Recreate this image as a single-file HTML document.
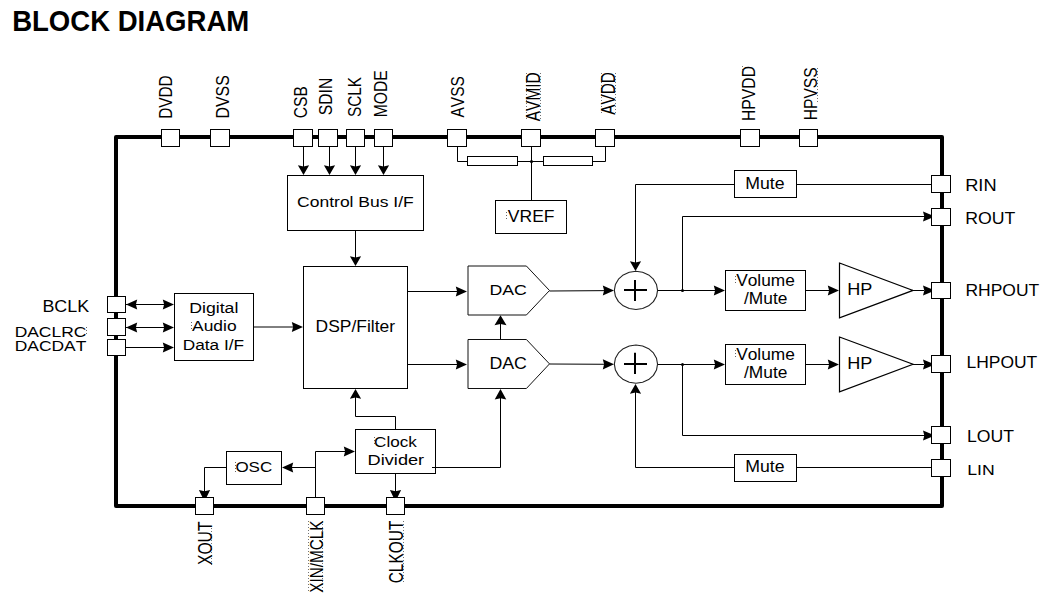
<!DOCTYPE html>
<html><head><meta charset="utf-8"><title>Block Diagram</title>
<style>
html,body{margin:0;padding:0;background:#fff;}
body{width:1051px;height:606px;overflow:hidden;}
svg{display:block;}
text{font-family:"Liberation Sans",sans-serif;font-kerning:none;}
</style></head>
<body>
<svg width="1051" height="606" viewBox="0 0 1051 606">
<rect width="1051" height="606" fill="#fff"/>
<text transform="translate(12.16,30.80) scale(0.9842,1.0434)" font-size="28" font-weight="bold" fill="#000">BLOCK DIAGRAM</text>
<rect x="116" y="137" width="826" height="369" fill="none" stroke="#000" stroke-width="4" stroke-linejoin="round"/>
<rect x="161.5" y="129.5" width="18" height="17" fill="#fff" stroke="#000" stroke-width="1"/>
<rect x="210.5" y="129.5" width="19" height="17" fill="#fff" stroke="#000" stroke-width="1"/>
<rect x="293.5" y="129.5" width="19" height="17" fill="#fff" stroke="#000" stroke-width="1"/>
<rect x="318.5" y="129.5" width="19" height="17" fill="#fff" stroke="#000" stroke-width="1"/>
<rect x="346.5" y="129.5" width="18" height="17" fill="#fff" stroke="#000" stroke-width="1"/>
<rect x="374.5" y="129.5" width="18" height="17" fill="#fff" stroke="#000" stroke-width="1"/>
<rect x="447.5" y="129.5" width="19" height="17" fill="#fff" stroke="#000" stroke-width="1"/>
<rect x="521.5" y="129.5" width="19" height="17" fill="#fff" stroke="#000" stroke-width="1"/>
<rect x="595.5" y="129.5" width="19" height="17" fill="#fff" stroke="#000" stroke-width="1"/>
<rect x="740.5" y="129.5" width="19" height="17" fill="#fff" stroke="#000" stroke-width="1"/>
<rect x="799.5" y="129.5" width="18" height="17" fill="#fff" stroke="#000" stroke-width="1"/>
<rect x="931.5" y="175.5" width="19" height="17" fill="#fff" stroke="#000" stroke-width="1"/>
<rect x="931.5" y="208.5" width="19" height="17" fill="#fff" stroke="#000" stroke-width="1"/>
<rect x="931.5" y="282.5" width="19" height="16" fill="#fff" stroke="#000" stroke-width="1"/>
<rect x="931.5" y="355.5" width="19" height="17" fill="#fff" stroke="#000" stroke-width="1"/>
<rect x="931.5" y="426.5" width="19" height="17" fill="#fff" stroke="#000" stroke-width="1"/>
<rect x="931.5" y="459.5" width="19" height="17" fill="#fff" stroke="#000" stroke-width="1"/>
<rect x="107.5" y="296.5" width="18" height="16" fill="#fff" stroke="#000" stroke-width="1"/>
<rect x="107.5" y="318.5" width="18" height="17" fill="#fff" stroke="#000" stroke-width="1"/>
<rect x="107.5" y="339.5" width="18" height="16" fill="#fff" stroke="#000" stroke-width="1"/>
<rect x="195.5" y="497.5" width="18" height="17" fill="#fff" stroke="#000" stroke-width="1"/>
<rect x="306.5" y="497.5" width="18" height="17" fill="#fff" stroke="#000" stroke-width="1"/>
<rect x="386.5" y="497.5" width="18" height="17" fill="#fff" stroke="#000" stroke-width="1"/>
<text transform="translate(171.70,118.86) rotate(-90) scale(0.7693,0.9157)" font-size="20" fill="#000" class="t">DVDD</text>
<text transform="translate(229.00,118.50) rotate(-90) scale(0.7938,0.9237)" font-size="20" fill="#000" class="t">DVSS</text>
<text transform="translate(306.50,118.19) rotate(-90) scale(0.7784,0.9309)" font-size="20" fill="#000" class="t">CSB</text>
<text transform="translate(332.00,115.21) rotate(-90) scale(0.7846,0.8951)" font-size="20" fill="#000" class="t">SDIN</text>
<text transform="translate(360.90,117.10) rotate(-90) scale(0.7708,0.9237)" font-size="20" fill="#000" class="t">SCLK</text>
<text transform="translate(387.40,117.28) rotate(-90) scale(0.7826,0.9524)" font-size="20" fill="#000" class="t">MODE</text>
<text transform="translate(464.40,117.53) rotate(-90) scale(0.7748,0.9524)" font-size="20" fill="#000" class="t">AVSS</text>
<text transform="translate(540.00,121.23) rotate(-90) scale(0.7731,0.9811)" font-size="20" fill="#000" class="t">AVMID</text>
<text transform="translate(615.30,114.73) rotate(-90) scale(0.7660,1.0102)" font-size="20" fill="#000" class="t">AVDD</text>
<text transform="translate(755.00,120.99) rotate(-90) scale(0.7862,0.9230)" font-size="20" fill="#000" class="t">HPVDD</text>
<text transform="translate(817.30,120.28) rotate(-90) scale(0.7817,0.9452)" font-size="20" fill="#000" class="t">HPVSS</text>
<text transform="translate(211.80,565.05) rotate(-90) scale(0.7850,0.9882)" font-size="20" fill="#000" class="t">XOUT</text>
<text transform="translate(322.50,592.84) rotate(-90) scale(0.7666,0.9246)" font-size="20" fill="#000" class="t">XIN/MCLK</text>
<text transform="translate(403.00,583.28) rotate(-90) scale(0.7721,0.9810)" font-size="20" fill="#000" class="t">CLKOUT</text>
<text transform="translate(965.21,190.80) scale(0.9111,0.8503)" font-size="20" fill="#000" class="t">RIN</text>
<text transform="translate(965.25,224.10) scale(0.8853,0.8235)" font-size="20" fill="#000" class="t">ROUT</text>
<text transform="translate(965.47,295.80) scale(0.8744,0.8020)" font-size="20" fill="#000" class="t">RHPOUT</text>
<text transform="translate(966.47,367.70) scale(0.8732,0.8163)" font-size="20" fill="#000" class="t">LHPOUT</text>
<text transform="translate(966.95,441.50) scale(0.8821,0.8092)" font-size="20" fill="#000" class="t">LOUT</text>
<text transform="translate(967.15,474.80) scale(0.8833,0.7631)" font-size="20" fill="#000" class="t">LIN</text>
<text transform="translate(42.43,311.70) scale(0.8952,0.8307)" font-size="20" fill="#000" class="t">BCLK</text>
<text transform="translate(14.67,336.60) scale(0.8718,0.7447)" font-size="20" fill="#000" class="t">DACLRC</text>
<text transform="translate(14.67,351.40) scale(0.8724,0.7447)" font-size="20" fill="#000" class="t">DACDAT</text>
<rect x="287.5" y="175.5" width="136" height="55" fill="#fff" stroke="#000" stroke-width="1"/>
<text transform="translate(297.11,207.00) scale(0.8749,0.7659)" font-size="20" fill="#000" class="t">Control Bus I/F</text>
<rect x="495.5" y="200.5" width="71" height="33" fill="#fff" stroke="#000" stroke-width="1"/>
<text transform="translate(507.82,221.60) scale(0.8770,0.8576)" font-size="20" fill="#000" class="t">VREF</text>
<rect x="174.5" y="293.5" width="79" height="67" fill="#fff" stroke="#000" stroke-width="1"/>
<text transform="translate(189.25,312.80) scale(0.8841,0.7383)" font-size="20" fill="#000" class="t">Digital</text>
<text transform="translate(192.07,331.10) scale(0.8712,0.7452)" font-size="20" fill="#000" class="t">Audio</text>
<text transform="translate(182.79,350.00) scale(0.8618,0.7521)" font-size="20" fill="#000" class="t">Data I/F</text>
<rect x="303.5" y="266.5" width="104" height="122" fill="#fff" stroke="#000" stroke-width="1"/>
<text transform="translate(315.57,331.60) scale(0.8727,0.7935)" font-size="20" fill="#000" class="t">DSP/Filter</text>
<path d="M468,266 L526.4,266 L549.5,290.5 L526.4,315 L468,315 Z" fill="#fff" stroke="#111" stroke-width="1"/>
<path d="M468,339.5 L526.4,339.5 L549.5,363.9 L526.4,388.5 L468,388.5 Z" fill="#fff" stroke="#111" stroke-width="1"/>
<text transform="translate(489.45,294.90) scale(0.8839,0.7590)" font-size="20" fill="#000" class="t">DAC</text>
<text transform="translate(489.44,368.80) scale(0.8889,0.8020)" font-size="20" fill="#000" class="t">DAC</text>
<polygon points="657.55,290.40 656.49,296.30 653.42,301.63 648.65,305.85 642.62,308.57 635.95,309.50 629.28,308.57 623.25,305.85 618.48,301.63 615.41,296.30 614.35,290.40 615.41,284.50 618.48,279.17 623.25,274.95 629.28,272.23 635.95,271.30 642.62,272.23 648.65,274.95 653.42,279.17 656.49,284.50" fill="#fff" stroke="#222" stroke-width="1.1" stroke-linejoin="round"/>
<line x1="624" y1="290.0" x2="647" y2="290.0" stroke="#000" stroke-width="2"/>
<line x1="635" y1="280.0" x2="635" y2="301.0" stroke="#000" stroke-width="2"/>
<polygon points="657.55,364.15 656.49,370.05 653.42,375.38 648.65,379.60 642.62,382.32 635.95,383.25 629.28,382.32 623.25,379.60 618.48,375.38 615.41,370.05 614.35,364.15 615.41,358.25 618.48,352.92 623.25,348.70 629.28,345.98 635.95,345.05 642.62,345.98 648.65,348.70 653.42,352.92 656.49,358.25" fill="#fff" stroke="#222" stroke-width="1.1" stroke-linejoin="round"/>
<line x1="624" y1="364.0" x2="647" y2="364.0" stroke="#000" stroke-width="2"/>
<line x1="635" y1="352.8" x2="635" y2="374.0" stroke="#000" stroke-width="2"/>
<rect x="725.5" y="270.5" width="80" height="40" fill="#fff" stroke="#000" stroke-width="1"/>
<rect x="725.5" y="344.5" width="80" height="40" fill="#fff" stroke="#000" stroke-width="1"/>
<text transform="translate(736.22,285.90) scale(0.8648,0.8142)" font-size="20" fill="#000" class="t">Volume</text>
<text transform="translate(744.00,304.30) scale(0.8671,0.7797)" font-size="20" fill="#000" class="t">/Mute</text>
<text transform="translate(736.22,359.80) scale(0.8648,0.8073)" font-size="20" fill="#000" class="t">Volume</text>
<text transform="translate(744.00,377.80) scale(0.8671,0.7866)" font-size="20" fill="#000" class="t">/Mute</text>
<path d="M839.5,263 L913,290.4 L839.5,317.9 Z" fill="#fff" stroke="#000" stroke-width="1.2"/>
<path d="M839.5,337 L913,364.3 L839.5,391.9 Z" fill="#fff" stroke="#000" stroke-width="1.2"/>
<text transform="translate(847.22,295.00) scale(0.9048,0.7849)" font-size="20" fill="#000" class="t">HP</text>
<text transform="translate(847.22,369.00) scale(0.9048,0.7849)" font-size="20" fill="#000" class="t">HP</text>
<rect x="734.5" y="170.5" width="62" height="27" fill="#fff" stroke="#000" stroke-width="1"/>
<text transform="translate(745.25,188.80) scale(0.8847,0.8430)" font-size="20" fill="#000" class="t">Mute</text>
<rect x="734.5" y="454.5" width="62" height="27" fill="#fff" stroke="#000" stroke-width="1"/>
<text transform="translate(745.25,472.40) scale(0.8847,0.8212)" font-size="20" fill="#000" class="t">Mute</text>
<rect x="226.5" y="451.5" width="55" height="33" fill="#fff" stroke="#000" stroke-width="1"/>
<text transform="translate(235.39,471.90) scale(0.8503,0.7734)" font-size="20" fill="#000" class="t">OSC</text>
<rect x="355.5" y="429.5" width="80" height="44" fill="#fff" stroke="#000" stroke-width="1"/>
<text transform="translate(374.03,446.80) scale(0.8567,0.7728)" font-size="20" fill="#000" class="t">Clock</text>
<text transform="translate(367.61,465.20) scale(0.9093,0.7383)" font-size="20" fill="#000" class="t">Divider</text>
<rect x="467.5" y="156.5" width="50" height="9" fill="#fff" stroke="#000" stroke-width="1"/>
<rect x="543.5" y="156.5" width="49" height="9" fill="#fff" stroke="#000" stroke-width="1"/>
<line x1="526.5" y1="73" x2="526.5" y2="121" stroke="#000" stroke-width="1" stroke-dasharray="1 2" opacity="0.55"/>
<line x1="540.5" y1="73" x2="540.5" y2="121" stroke="#000" stroke-width="1" stroke-dasharray="1 2" opacity="0.55"/>
<line x1="601.5" y1="73" x2="601.5" y2="115" stroke="#000" stroke-width="1" stroke-dasharray="1 2" opacity="0.55"/>
<line x1="615.5" y1="73" x2="615.5" y2="115" stroke="#000" stroke-width="1" stroke-dasharray="1 2" opacity="0.55"/>
<line x1="308.5" y1="521" x2="308.5" y2="592" stroke="#000" stroke-width="1" stroke-dasharray="1 2" opacity="0.55"/>
<line x1="322.5" y1="521" x2="322.5" y2="592" stroke="#000" stroke-width="1" stroke-dasharray="1 2" opacity="0.55"/>
<line x1="403.5" y1="521" x2="403.5" y2="583" stroke="#000" stroke-width="1" stroke-dasharray="1 2" opacity="0.55"/>
<line x1="211.5" y1="528" x2="211.5" y2="565" stroke="#000" stroke-width="1" stroke-dasharray="1 2" opacity="0.55"/>
<line x1="817.5" y1="68" x2="817.5" y2="104" stroke="#000" stroke-width="1" stroke-dasharray="1 2" opacity="0.55"/>
<line x1="742.5" y1="66" x2="742.5" y2="72" stroke="#000" stroke-width="1" stroke-dasharray="1 2" opacity="0.55"/>
<line x1="735.5" y1="276" x2="735.5" y2="284" stroke="#000" stroke-width="1" stroke-dasharray="1 2" opacity="0.6"/>
<line x1="735.5" y1="350" x2="735.5" y2="358" stroke="#000" stroke-width="1" stroke-dasharray="1 2" opacity="0.6"/>
<line x1="191.5" y1="322" x2="191.5" y2="330" stroke="#000" stroke-width="1" stroke-dasharray="1 2" opacity="0.6"/>
<line x1="235.5" y1="462" x2="235.5" y2="472" stroke="#000" stroke-width="1" stroke-dasharray="1 2" opacity="0.6"/>
<line x1="374.5" y1="437" x2="374.5" y2="446" stroke="#000" stroke-width="1" stroke-dasharray="1 2" opacity="0.6"/>
<line x1="506.5" y1="212" x2="506.5" y2="220" stroke="#000" stroke-width="1" stroke-dasharray="1 2" opacity="0.6"/>
<line x1="86.5" y1="327" x2="86.5" y2="336" stroke="#000" stroke-width="1" stroke-dasharray="1 2" opacity="0.6"/>
<line x1="303.5" y1="147" x2="303.5" y2="170" stroke="#000" stroke-width="1"/>
<path d="M0,0 L-9.8,-5.6 L-8.5,0 L-9.8,5.6 Z" fill="#000" transform="translate(303.5,175) rotate(90)"/>
<line x1="329.5" y1="147" x2="329.5" y2="170" stroke="#000" stroke-width="1"/>
<path d="M0,0 L-9.8,-5.6 L-8.5,0 L-9.8,5.6 Z" fill="#000" transform="translate(329.5,175) rotate(90)"/>
<line x1="355.5" y1="147" x2="355.5" y2="170" stroke="#000" stroke-width="1"/>
<path d="M0,0 L-9.8,-5.6 L-8.5,0 L-9.8,5.6 Z" fill="#000" transform="translate(355.5,175) rotate(90)"/>
<line x1="383.5" y1="147" x2="383.5" y2="170" stroke="#000" stroke-width="1"/>
<path d="M0,0 L-9.8,-5.6 L-8.5,0 L-9.8,5.6 Z" fill="#000" transform="translate(383.5,175) rotate(90)"/>
<line x1="355.5" y1="231" x2="355.5" y2="261" stroke="#000" stroke-width="1"/>
<path d="M0,0 L-9.8,-5.6 L-8.5,0 L-9.8,5.6 Z" fill="#000" transform="translate(355.5,266) rotate(90)"/>
<polyline points="457.5,147 457.5,161.5 467,161.5" fill="none" stroke="#000" stroke-width="1"/>
<line x1="518" y1="161.5" x2="543" y2="161.5" stroke="#000" stroke-width="1"/>
<line x1="531.5" y1="147" x2="531.5" y2="200" stroke="#000" stroke-width="1"/>
<circle cx="531.5" cy="161.5" r="1.6" fill="#000"/>
<polyline points="593,161.5 605.5,161.5 605.5,147" fill="none" stroke="#000" stroke-width="1"/>
<line x1="126" y1="304.5" x2="169" y2="304.5" stroke="#000" stroke-width="1"/>
<path d="M0,0 L-11.2,-5.1 L-9.899999999999999,0 L-11.2,5.1 Z" fill="#000" transform="translate(174,304.5) rotate(0)"/>
<path d="M0,0 L-11.2,-5.1 L-9.899999999999999,0 L-11.2,5.1 Z" fill="#000" transform="translate(126,304.5) rotate(180)"/>
<line x1="126" y1="327.5" x2="169" y2="327.5" stroke="#000" stroke-width="1"/>
<path d="M0,0 L-11.2,-5.1 L-9.899999999999999,0 L-11.2,5.1 Z" fill="#000" transform="translate(174,327.5) rotate(0)"/>
<path d="M0,0 L-11.2,-5.1 L-9.899999999999999,0 L-11.2,5.1 Z" fill="#000" transform="translate(126,327.5) rotate(180)"/>
<line x1="126" y1="347.5" x2="169" y2="347.5" stroke="#000" stroke-width="1"/>
<path d="M0,0 L-11.2,-5.1 L-9.899999999999999,0 L-11.2,5.1 Z" fill="#000" transform="translate(174,347.5) rotate(0)"/>
<line x1="254" y1="327" x2="298" y2="327" stroke="#000" stroke-width="1"/>
<path d="M0,0 L-11.2,-5.1 L-9.899999999999999,0 L-11.2,5.1 Z" fill="#000" transform="translate(303,327) rotate(0)"/>
<line x1="408" y1="291.5" x2="462" y2="291.5" stroke="#000" stroke-width="1"/>
<path d="M0,0 L-11.2,-5.1 L-9.899999999999999,0 L-11.2,5.1 Z" fill="#000" transform="translate(467,291.5) rotate(0)"/>
<line x1="408" y1="364.5" x2="462" y2="364.5" stroke="#000" stroke-width="1"/>
<path d="M0,0 L-11.2,-5.1 L-9.899999999999999,0 L-11.2,5.1 Z" fill="#000" transform="translate(467,364.5) rotate(0)"/>
<line x1="549.5" y1="291" x2="609" y2="290.6" stroke="#000" stroke-width="1"/>
<path d="M0,0 L-11.2,-5.1 L-9.899999999999999,0 L-11.2,5.1 Z" fill="#000" transform="translate(614,290.5) rotate(0)"/>
<line x1="549.5" y1="364" x2="609" y2="364.3" stroke="#000" stroke-width="1"/>
<path d="M0,0 L-11.2,-5.1 L-9.899999999999999,0 L-11.2,5.1 Z" fill="#000" transform="translate(614,364.3) rotate(0)"/>
<line x1="500.5" y1="339" x2="500.5" y2="320" stroke="#000" stroke-width="1"/>
<path d="M0,0 L-10,-6 L-8.7,0 L-10,6 Z" fill="#000" transform="translate(500.5,315.2) rotate(270)"/>
<line x1="658" y1="290.5" x2="720" y2="290.5" stroke="#000" stroke-width="1"/>
<path d="M0,0 L-11.2,-5.1 L-9.899999999999999,0 L-11.2,5.1 Z" fill="#000" transform="translate(725,290.5) rotate(0)"/>
<line x1="658" y1="364.5" x2="720" y2="364.5" stroke="#000" stroke-width="1"/>
<path d="M0,0 L-11.2,-5.1 L-9.899999999999999,0 L-11.2,5.1 Z" fill="#000" transform="translate(725,364.5) rotate(0)"/>
<circle cx="682.5" cy="290.5" r="1.5" fill="#000"/>
<circle cx="682.5" cy="364.5" r="1.5" fill="#000"/>
<polyline points="682.5,290.5 682.5,216.5 926,216.5" fill="none" stroke="#000" stroke-width="1"/>
<path d="M0,0 L-12,-5.1 L-10.7,0 L-12,5.1 Z" fill="#000" transform="translate(935,216.5) rotate(0)"/>
<rect x="931.5" y="208.5" width="19" height="17" fill="#fff" stroke="#000" stroke-width="1"/>
<polyline points="682.5,364.5 682.5,435.5 926,435.5" fill="none" stroke="#000" stroke-width="1"/>
<path d="M0,0 L-12,-5.1 L-10.7,0 L-12,5.1 Z" fill="#000" transform="translate(935,435.5) rotate(0)"/>
<rect x="931.5" y="426.5" width="19" height="17" fill="#fff" stroke="#000" stroke-width="1"/>
<line x1="797" y1="184.5" x2="931" y2="184.5" stroke="#000" stroke-width="1"/>
<polyline points="734,184.5 635.5,184.5 635.5,266" fill="none" stroke="#000" stroke-width="1"/>
<path d="M0,0 L-9.8,-5.6 L-8.5,0 L-9.8,5.6 Z" fill="#000" transform="translate(635.5,271) rotate(90)"/>
<line x1="797" y1="467.5" x2="931" y2="467.5" stroke="#000" stroke-width="1"/>
<polyline points="734,467.5 635.5,467.5 635.5,389" fill="none" stroke="#000" stroke-width="1"/>
<path d="M0,0 L-9.8,-5.6 L-8.5,0 L-9.8,5.6 Z" fill="#000" transform="translate(635.5,384) rotate(270)"/>
<line x1="806" y1="290.5" x2="834" y2="290.5" stroke="#000" stroke-width="1"/>
<path d="M0,0 L-11.2,-5.1 L-9.899999999999999,0 L-11.2,5.1 Z" fill="#000" transform="translate(839,290.5) rotate(0)"/>
<line x1="806" y1="364.5" x2="834" y2="364.5" stroke="#000" stroke-width="1"/>
<path d="M0,0 L-11.2,-5.1 L-9.899999999999999,0 L-11.2,5.1 Z" fill="#000" transform="translate(839,364.5) rotate(0)"/>
<line x1="913" y1="290.5" x2="924" y2="290.5" stroke="#000" stroke-width="1"/>
<path d="M0,0 L-12,-5.1 L-10.7,0 L-12,5.1 Z" fill="#000" transform="translate(935,290.5) rotate(0)"/>
<rect x="931.5" y="282.5" width="19" height="16" fill="#fff" stroke="#000" stroke-width="1"/>
<line x1="913" y1="364.5" x2="924" y2="364.5" stroke="#000" stroke-width="1"/>
<path d="M0,0 L-12,-5.1 L-10.7,0 L-12,5.1 Z" fill="#000" transform="translate(935,364.5) rotate(0)"/>
<rect x="931.5" y="355.5" width="19" height="17" fill="#fff" stroke="#000" stroke-width="1"/>
<polyline points="395.5,429 395.5,416.5 355.5,416.5 355.5,394" fill="none" stroke="#000" stroke-width="1"/>
<path d="M0,0 L-9.8,-5.6 L-8.5,0 L-9.8,5.6 Z" fill="#000" transform="translate(355.5,389) rotate(270)"/>
<polyline points="432,467.5 500.5,467.5 500.5,394" fill="none" stroke="#000" stroke-width="1"/>
<path d="M0,0 L-10.5,-5.8 L-9.2,0 L-10.5,5.8 Z" fill="#000" transform="translate(500.5,389) rotate(270)"/>
<line x1="395.5" y1="474" x2="395.5" y2="492" stroke="#000" stroke-width="1"/>
<path d="M0,0 L-11.5,-5.6 L-10.2,0 L-11.5,5.6 Z" fill="#000" transform="translate(395.5,501.5) rotate(90)"/>
<rect x="386.5" y="497.5" width="18" height="17" fill="#fff" stroke="#000" stroke-width="1"/>
<polyline points="315.5,497 315.5,451.5 350,451.5" fill="none" stroke="#000" stroke-width="1"/>
<path d="M0,0 L-11.2,-5.1 L-9.899999999999999,0 L-11.2,5.1 Z" fill="#000" transform="translate(355,451.5) rotate(0)"/>
<line x1="315.5" y1="467.5" x2="287" y2="467.5" stroke="#000" stroke-width="1"/>
<path d="M0,0 L-11.2,-5.1 L-9.899999999999999,0 L-11.2,5.1 Z" fill="#000" transform="translate(282,467.5) rotate(180)"/>
<polyline points="226,467.5 204.5,467.5 204.5,492" fill="none" stroke="#000" stroke-width="1"/>
<path d="M0,0 L-11.5,-5.6 L-10.2,0 L-11.5,5.6 Z" fill="#000" transform="translate(204.5,501.5) rotate(90)"/>
<rect x="195.5" y="497.5" width="18" height="17" fill="#fff" stroke="#000" stroke-width="1"/>
</svg>
</body></html>
